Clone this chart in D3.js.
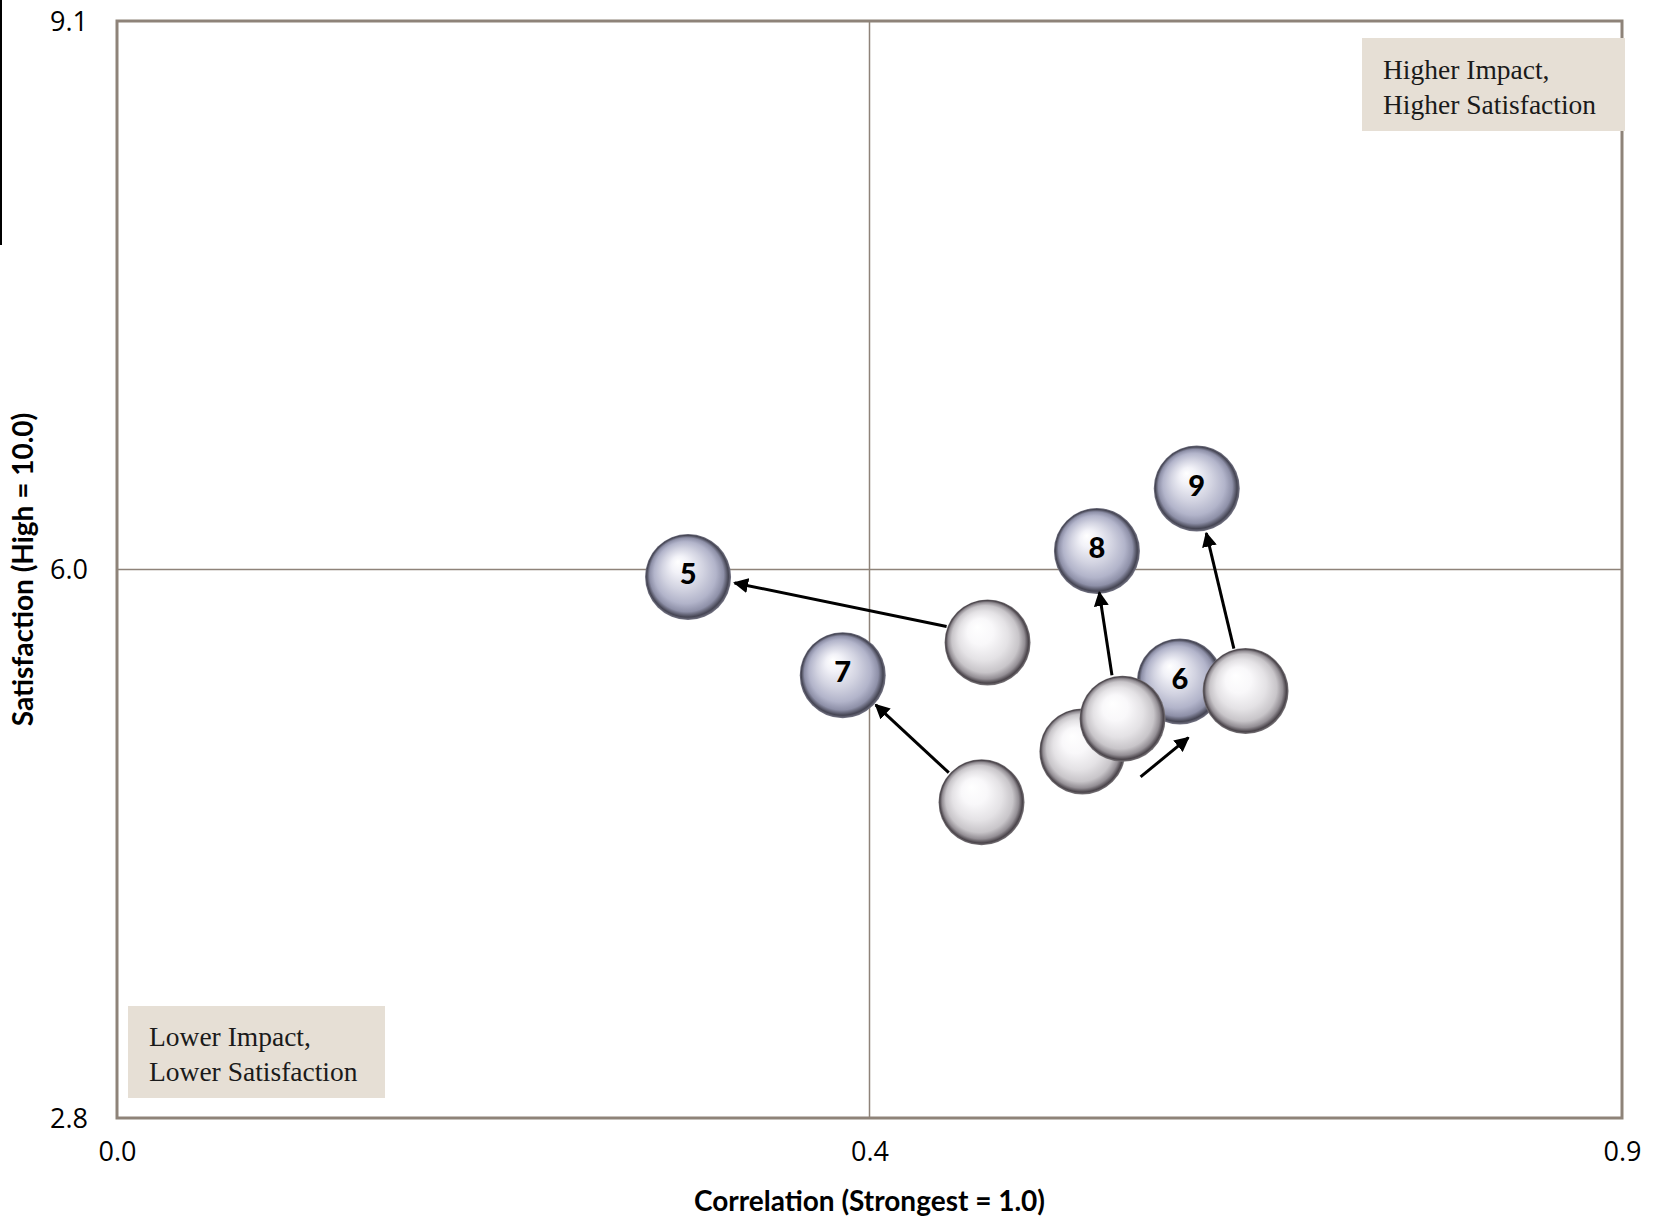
<!DOCTYPE html>
<html>
<head>
<meta charset="utf-8">
<script src="https://cdn.jsdelivr.net/npm/d3@7"></script>
<style>
  html, body { margin: 0; padding: 0; background: #ffffff; }
  svg { display: block; }
</style>
</head>
<body>
<div id="chart"></div>
<script>
// ---------------- DATA ----------------
const xDomain = [0, 0.9];
const yDomain = [2.8, 9.1];
const xTickValues = [0, 0.45, 0.9];
const xTickLabels = ["0.0", "0.4", "0.9"];
const yTickValues = [2.8, 5.95, 9.1];
const yTickLabels = ["2.8", "6.0", "9.1"];
const xTitle = "Correlation (Strongest = 1.0)";
const yTitle = "Satisfaction (High = 10.0)";

// current-period items (labelled, blue-grey spheres)
const currentLabels = ["5", "7", "8", "9", "6"];
const currentX = [0.3415, 0.434, 0.586, 0.6457, 0.6356];
const currentY = [5.907, 5.343, 6.056, 6.415, 5.307];

// previous-period items (white spheres), in drawing order
const previousX = [0.5206, 0.517, 0.5773, 0.6013, 0.6749];
const previousY = [5.531, 4.613, 4.905, 5.093, 5.252];

// movement arrows (data coordinates: from -> to)
const arrowX1 = [0.4961, 0.4974, 0.595, 0.6679, 0.6121];
const arrowY1 = [5.623, 4.783, 5.343, 5.496, 4.759];
const arrowX2 = [0.3693, 0.4537, 0.5874, 0.6514, 0.6407];
const arrowY2 = [5.873, 5.173, 5.818, 6.159, 4.984];

const quadrantTop = ["Higher Impact,", "Higher Satisfaction"];
const quadrantBottom = ["Lower Impact,", "Lower Satisfaction"];

// ---------------- LAYOUT ----------------
(function () {
const W = 1662, H = 1218;
const pL = 117, pT = 21, pR = 1622, pB = 1118;
const R = 43;
const frameColor = "#8e8379";

const svg = d3.select("#chart").append("svg")
  .attr("width", W).attr("height", H);

const defs = svg.append("defs");

const blueGrad = defs.append("radialGradient")
  .attr("id", "blueBall").attr("cx", "50%").attr("cy", "50%").attr("r", "50%")
  .attr("fx", "38%").attr("fy", "32%");
[[0, "#ffffff"], [0.2, "#f2f2f8"], [0.48, "#d2d3e1"], [0.72, "#b2b4ca"],
 [0.86, "#8e90a8"], [0.95, "#454553"], [1, "#767686"]]
  .forEach(([o, c]) => blueGrad.append("stop").attr("offset", o).attr("stop-color", c));

const whiteGrad = defs.append("radialGradient")
  .attr("id", "whiteBall").attr("cx", "50%").attr("cy", "50%").attr("r", "50%")
  .attr("fx", "38%").attr("fy", "32%");
[[0, "#ffffff"], [0.3, "#f9f8fa"], [0.58, "#e4e2e5"], [0.78, "#c8c5c9"],
 [0.89, "#948f95"], [0.96, "#4a444a"], [1, "#7c787c"]]
  .forEach(([o, c]) => whiteGrad.append("stop").attr("offset", o).attr("stop-color", c));

defs.append("marker")
  .attr("id", "arrowHead").attr("viewBox", "0 0 10 10")
  .attr("refX", 9).attr("refY", 5)
  .attr("markerWidth", 5).attr("markerHeight", 5)
  .attr("markerUnits", "strokeWidth")
  .attr("orient", "auto")
  .append("path").attr("d", "M0,0 L10,5 L0,10 Z").attr("fill", "#000");

const x = d3.scaleLinear().domain(xDomain).range([pL, pR]);
const y = d3.scaleLinear().domain(yDomain).range([pB, pT]);

// black strip on left edge
svg.append("line").attr("x1", 1).attr("x2", 1).attr("y1", 0).attr("y2", 245)
  .attr("stroke", "#000").attr("stroke-width", 2);

// gridlines at the middle ticks
svg.append("line").attr("x1", x(xTickValues[1])).attr("x2", x(xTickValues[1]))
  .attr("y1", pT).attr("y2", pB).attr("stroke", frameColor).attr("stroke-width", 1.5);
svg.append("line").attr("x1", pL).attr("x2", pR)
  .attr("y1", y(yTickValues[1])).attr("y2", y(yTickValues[1]))
  .attr("stroke", frameColor).attr("stroke-width", 1.5);

// frame
svg.append("rect").attr("x", pL).attr("y", pT)
  .attr("width", pR - pL).attr("height", pB - pT)
  .attr("fill", "none").attr("stroke", frameColor).attr("stroke-width", 3);

// quadrant labels
function quadBox(bx, by, bw, bh, lines, tx, ty) {
  svg.append("rect").attr("x", bx).attr("y", by).attr("width", bw).attr("height", bh)
    .attr("fill", "#e6dfd5");
  const t = svg.append("text").attr("x", tx).attr("y", ty)
    .attr("font-family", "'Liberation Serif', 'DejaVu Serif', serif")
    .attr("font-size", 27.5).attr("fill", "#1a1a1a");
  lines.forEach((l, i) => t.append("tspan").attr("x", tx).attr("dy", i === 0 ? 0 : 35).text(l));
}
quadBox(1362, 38, 263, 93, quadrantTop, 1383, 79);
quadBox(128, 1006, 257, 92, quadrantBottom, 149, 1046);

// axes (labels only)
const axisFont = "'Open Sans', 'Liberation Sans', sans-serif";
const yAxis = svg.append("g").attr("transform", `translate(${pL - 29},0)`)
  .call(d3.axisLeft(y).tickValues(yTickValues).tickSize(0)
    .tickFormat((d, i) => yTickLabels[i]));
yAxis.select(".domain").remove();
yAxis.selectAll("text").attr("font-family", axisFont).attr("font-size", 27)
  .attr("fill", "#000").attr("x", 0).attr("dy", "0.35em");

const xAxis = svg.append("g").attr("transform", `translate(0,${pB + 24})`)
  .call(d3.axisBottom(x).tickValues(xTickValues).tickSize(0)
    .tickFormat((d, i) => xTickLabels[i]));
xAxis.select(".domain").remove();
xAxis.selectAll("text").attr("font-family", axisFont).attr("font-size", 27)
  .attr("fill", "#000").attr("y", 0).attr("dy", "0.71em");

// axis titles
svg.append("text").attr("x", (pL + pR) / 2).attr("y", 1211)
  .attr("text-anchor", "middle").attr("font-family", "Lato, 'Open Sans', sans-serif")
  .attr("font-weight", "bold").attr("font-size", 28).attr("fill", "#000").text(xTitle);
svg.append("text").attr("transform", `translate(33,${(pT + pB) / 2}) rotate(-90)`)
  .attr("text-anchor", "middle").attr("font-family", "Lato, 'Open Sans', sans-serif")
  .attr("font-weight", "bold").attr("font-size", 28).attr("fill", "#000").text(yTitle);

// current-period spheres
const cur = currentLabels.map((l, i) => ({ label: l, x: currentX[i], y: currentY[i] }));
const gCur = svg.append("g");
gCur.selectAll("circle").data(cur).join("circle")
  .attr("cx", d => x(d.x)).attr("cy", d => y(d.y)).attr("r", R)
  .attr("fill", "url(#blueBall)");
gCur.selectAll("text").data(cur).join("text")
  .attr("x", d => x(d.x)).attr("y", d => y(d.y) - 3)
  .attr("dy", "0.35em").attr("text-anchor", "middle")
  .attr("font-family", "Lato, 'Open Sans', sans-serif").attr("font-weight", "900")
  .attr("font-size", 29).attr("fill", "#000").text(d => d.label);

// previous-period spheres
const prev = previousX.map((v, i) => ({ x: v, y: previousY[i] }));
svg.append("g").selectAll("circle").data(prev).join("circle")
  .attr("cx", d => x(d.x)).attr("cy", d => y(d.y)).attr("r", R)
  .attr("fill", "url(#whiteBall)");

// arrows
const arrows = arrowX1.map((v, i) => ({ x1: v, y1: arrowY1[i], x2: arrowX2[i], y2: arrowY2[i] }));
svg.append("g").selectAll("line").data(arrows).join("line")
  .attr("x1", d => x(d.x1)).attr("y1", d => y(d.y1))
  .attr("x2", d => x(d.x2)).attr("y2", d => y(d.y2))
  .attr("stroke", "#000").attr("stroke-width", 3)
  .attr("marker-end", "url(#arrowHead)");
})();
</script>
</body>
</html>
